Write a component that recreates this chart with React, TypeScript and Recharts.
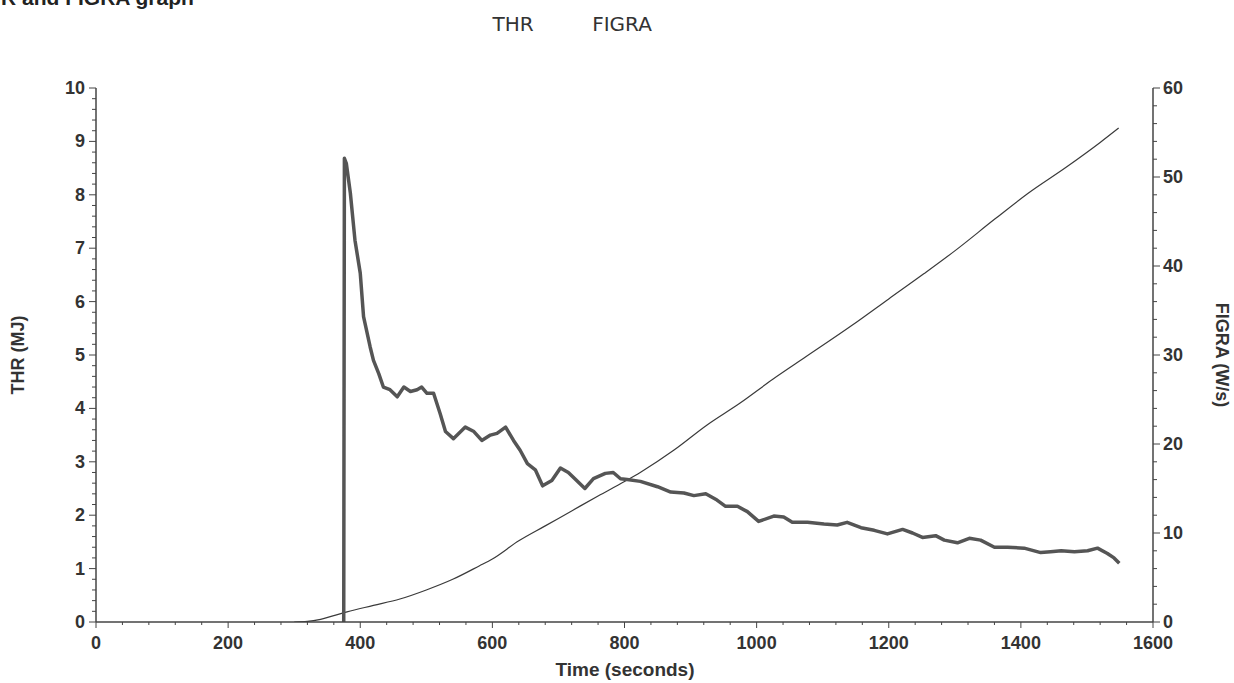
import React from 'react';
import { LineChart, Line, XAxis, YAxis } from 'recharts';

// ---- data ----
const seriesNames = ['THR', 'FIGRA'];

const thrTime = [300, 320, 340, 360, 380, 420, 460, 500, 540, 580, 600, 640, 680, 720, 760, 800, 825, 875, 925, 975, 1025, 1075, 1145, 1200, 1253, 1300, 1361, 1410, 1469, 1520, 1548];
const thrValue = [0, 0.01, 0.05, 0.12, 0.19, 0.31, 0.43, 0.6, 0.8, 1.05, 1.18, 1.52, 1.8, 2.08, 2.36, 2.63, 2.81, 3.22, 3.69, 4.1, 4.55, 4.97, 5.56, 6.05, 6.52, 6.95, 7.55, 8.02, 8.52, 8.98, 9.25];

const figraTime = [375, 376, 379, 385, 392, 400, 405, 415, 420, 428, 435, 445, 456, 466, 476, 486, 493, 501, 511, 521, 529, 541, 559, 572, 584, 597, 607, 620, 632, 642, 653, 665, 676, 690, 703, 715, 726, 740, 753, 771, 783, 794, 804, 824, 850, 870, 890, 905, 923, 940, 953, 971, 986, 1003, 1026, 1041, 1054, 1077, 1102, 1122, 1137, 1158, 1178, 1198, 1221, 1236, 1251, 1271, 1284, 1304, 1322, 1339, 1360, 1380, 1405, 1430, 1445, 1461, 1481, 1501, 1516, 1531, 1541, 1549];
const figraValue = [0, 52.1, 51.5, 48.2, 42.9, 39.2, 34.3, 30.9, 29.4, 27.9, 26.4, 26.1, 25.3, 26.4, 25.9, 26.1, 26.4, 25.7, 25.7, 23.4, 21.4, 20.6, 21.9, 21.4, 20.4, 21.0, 21.2, 21.9, 20.4, 19.3, 17.8, 17.1, 15.3, 15.9, 17.3, 16.8, 16.0, 15.0, 16.1, 16.7, 16.8, 16.1, 16.0, 15.8, 15.2, 14.6, 14.5, 14.2, 14.4, 13.7, 13.0, 13.0, 12.4, 11.3, 11.9, 11.8, 11.2, 11.2, 11.0, 10.9, 11.2, 10.6, 10.3, 9.9, 10.4, 10.0, 9.5, 9.7, 9.2, 8.9, 9.4, 9.2, 8.4, 8.4, 8.3, 7.8, 7.9, 8.0, 7.9, 8.0, 8.3, 7.7, 7.2, 6.6];

const xMajorTicks = [0, 200, 400, 600, 800, 1000, 1200, 1400, 1600];
const leftMajorTicks = [0, 1, 2, 3, 4, 5, 6, 7, 8, 9, 10];
const rightMajorTicks = [0, 10, 20, 30, 40, 50, 60];

const xTicks = Array.from({ length: 41 }, (_, i) => i * 40);
const leftTicks = Array.from({ length: 51 }, (_, i) => Math.round(i * 2) / 10);
const rightTicks = Array.from({ length: 31 }, (_, i) => i * 2);

const thrData = thrTime.map((t, i) => ({ t, v: thrValue[i] }));
const figraData = figraTime.map((t, i) => ({ t, v: figraValue[i] }));

const FONT = '"Liberation Sans", Arial, sans-serif';
const TICK_COLOR = '#333';
const AXIS_COLOR = '#444';

const isMajor = (v: number, list: number[]) => list.some((m) => Math.abs(m - v) < 1e-6);

const XTick = (props: any) => {
  const { x, y, payload } = props;
  const v = payload.value;
  const major = isMajor(v, xMajorTicks);
  return (
    <g>
      <line x1={x} x2={x} y1={y} y2={y + (major ? 6 : 3)} stroke={AXIS_COLOR} strokeWidth={1} />
      {major && (
        <text x={x} y={y + 27} textAnchor="middle" fontFamily={FONT} fontWeight="bold" fontSize={18} fill={TICK_COLOR}>
          {v}
        </text>
      )}
    </g>
  );
};

const LeftTick = (props: any) => {
  const { x, y, payload } = props;
  const v = payload.value;
  const major = isMajor(v, leftMajorTicks);
  return (
    <g>
      <line x1={x} x2={x - (major ? 7 : 4)} y1={y} y2={y} stroke={AXIS_COLOR} strokeWidth={1} />
      {major && (
        <text x={x - 11} y={y + 6} textAnchor="end" fontFamily={FONT} fontWeight="bold" fontSize={18} fill={TICK_COLOR}>
          {v}
        </text>
      )}
    </g>
  );
};

const RightTick = (props: any) => {
  const { x, y, payload } = props;
  const v = payload.value;
  const major = isMajor(v, rightMajorTicks);
  return (
    <g>
      <line x1={x} x2={x + (major ? 7 : 4)} y1={y} y2={y} stroke={AXIS_COLOR} strokeWidth={1} />
      {major && (
        <text x={x + 10} y={y + 6} textAnchor="start" fontFamily={FONT} fontWeight="bold" fontSize={18} fill={TICK_COLOR}>
          {v}
        </text>
      )}
    </g>
  );
};

export default function App() {
  return (
    <div style={{ position: 'absolute', left: 0, top: 0, width: 1234, height: 683, overflow: 'hidden', background: '#fff' }}>
      <LineChart width={1234} height={683} margin={{ top: 88, right: 21, bottom: 21, left: 36 }}>
        <XAxis
          type="number"
          dataKey="t"
          domain={[0, 1600]}
          ticks={xTicks}
          interval={0}
          tick={<XTick />}
          tickLine={false}
          tickSize={0}
          tickMargin={0}
          height={40}
          axisLine={{ stroke: AXIS_COLOR, strokeWidth: 1.5 }}
          allowDataOverflow
        />
        <YAxis
          yAxisId="left"
          orientation="left"
          type="number"
          domain={[0, 10]}
          ticks={leftTicks}
          interval={0}
          tick={<LeftTick />}
          tickLine={false}
          tickSize={0}
          tickMargin={0}
          width={60}
          axisLine={{ stroke: AXIS_COLOR, strokeWidth: 1.5 }}
          allowDataOverflow
        />
        <YAxis
          yAxisId="right"
          orientation="right"
          type="number"
          domain={[0, 60]}
          ticks={rightTicks}
          interval={0}
          tick={<RightTick />}
          tickLine={false}
          tickSize={0}
          tickMargin={0}
          width={60}
          axisLine={{ stroke: AXIS_COLOR, strokeWidth: 1.5 }}
          allowDataOverflow
        />
        <Line
          yAxisId="left"
          data={thrData}
          dataKey="v"
          name={seriesNames[0]}
          type="monotone"
          stroke="#3a3a3a"
          strokeWidth={1.2}
          dot={false}
          isAnimationActive={false}
        />
        <Line
          yAxisId="right"
          data={figraData}
          dataKey="v"
          name={seriesNames[1]}
          type="linear"
          stroke="#555"
          strokeWidth={3.5}
          strokeLinejoin="round"
          dot={false}
          isAnimationActive={false}
        />
      </LineChart>
      <svg width={1234} height={683} style={{ position: 'absolute', left: 0, top: 0, pointerEvents: 'none' }}>
        <text x={-27} y={5} fontFamily={FONT} fontWeight="bold" fontSize={21} fill="#222">
          THR and FIGRA graph
        </text>
        <text x={513} y={31} textAnchor="middle" fontFamily='"DejaVu Sans", sans-serif' fontSize={20} fill="#333">
          {seriesNames[0]}
        </text>
        <text x={622} y={31} textAnchor="middle" fontFamily='"DejaVu Sans", sans-serif' fontSize={20} fill="#333">
          {seriesNames[1]}
        </text>
        <text
          x={0}
          y={0}
          transform="translate(24,355) rotate(-90)"
          textAnchor="middle"
          fontFamily={FONT}
          fontWeight="bold"
          fontSize={18}
          fill={TICK_COLOR}
        >
          THR (MJ)
        </text>
        <text
          x={0}
          y={0}
          transform="translate(1216,355) rotate(90)"
          textAnchor="middle"
          fontFamily={FONT}
          fontWeight="bold"
          fontSize={18}
          fill={TICK_COLOR}
        >
          FIGRA (W/s)
        </text>
        <text x={625} y={676} textAnchor="middle" fontFamily={FONT} fontWeight="bold" fontSize={19} fill={TICK_COLOR}>
          Time (seconds)
        </text>
      </svg>
    </div>
  );
}
